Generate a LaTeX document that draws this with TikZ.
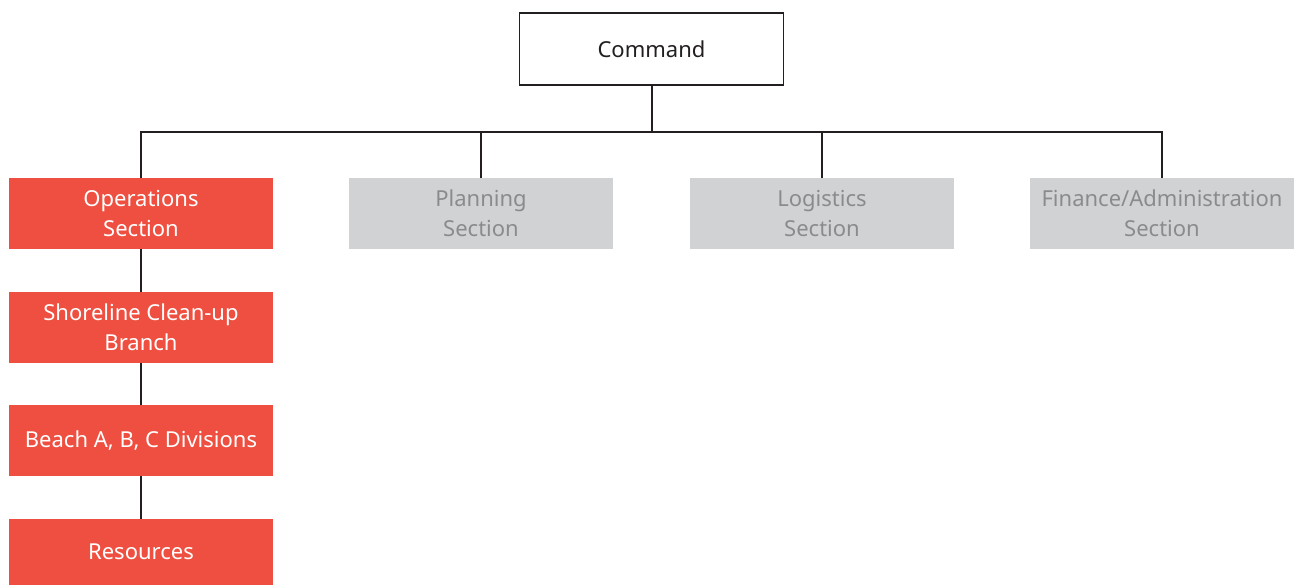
\documentclass[tikz,border=0pt]{standalone}
\usepackage{fontspec}
\setmainfont{Noto Sans}
\definecolor{opsred}{HTML}{EF4F40}
\definecolor{mutedfill}{HTML}{D1D2D4}
\definecolor{mutedtext}{HTML}{8A8B8D}
\definecolor{inkline}{HTML}{231F20}
\begin{document}
\begin{tikzpicture}[x=1pt,y=-1pt,
  unit/.style={rectangle, inner sep=0pt, align=center, font=\fontsize{22}{30}\selectfont},
  cmdbox/.style={unit, draw=inkline, line width=1.2pt, fill=white, text=inkline, minimum width=264pt, minimum height=72pt},
  opsbox/.style={unit, fill=opsred, text=white, minimum width=264pt, minimum height=71pt},
  sectbox/.style={unit, fill=mutedfill, text=mutedtext, minimum width=264pt, minimum height=71pt},
  link/.style={draw=inkline, line width=2pt}]
\useasboundingbox (0,0) rectangle (1296,585);
\begin{scope}
\clip (0,0) rectangle (1296,585);
% top of the chart
\node[cmdbox] (command) at (651.5,49) {Command};
% sections
\node[opsbox] (ops) at (141,213.5) {Operations\\Section};
\node[sectbox] (plan) at (481,213.5) {Planning\\Section};
\node[sectbox] (logi) at (822,213.5) {Logistics\\Section};
\node[sectbox] (fin) at (1162,213.5) {Finance/Administration\\Section};
% operations chain
\node[opsbox] (shore) at (141,327.5) {Shoreline Clean-up\\Branch};
\node[opsbox] (beach) at (141,440.5) {Beach A, B, C Divisions};
\node[opsbox, minimum height=66pt] (res) at (141,552) {Resources};
% connectors
\coordinate (bus) at (651.5,132);
\draw[link] (command.south) -- (bus);
\draw[link] (ops.north) |- (bus) -| (fin.north);
\draw[link] (plan.north) -- (plan.north |- bus);
\draw[link] (logi.north) -- (logi.north |- bus);
\draw[link] (ops.south) -- (shore.north);
\draw[link] (shore.south) -- (beach.north);
\draw[link] (beach.south) -- (res.north);
\end{scope}
\end{tikzpicture}
\end{document}
